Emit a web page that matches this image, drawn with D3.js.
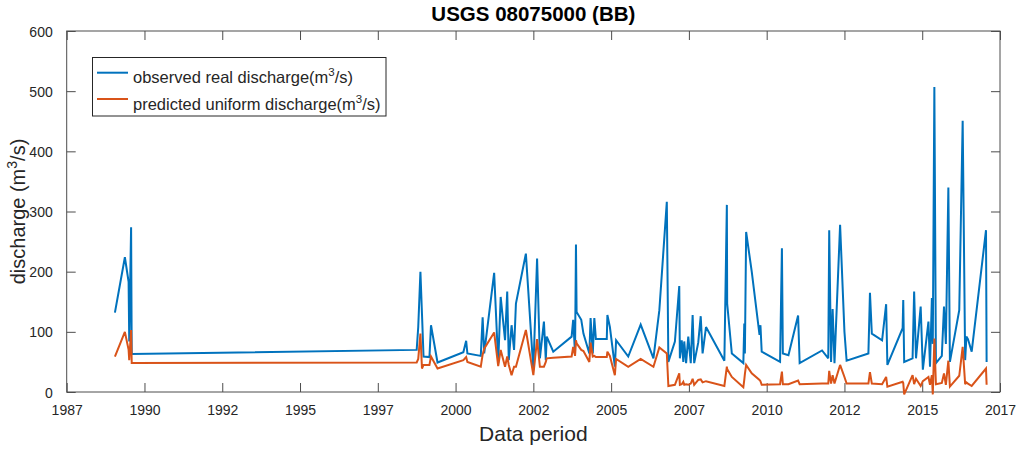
<!DOCTYPE html>
<html>
<head>
<meta charset="utf-8">
<script src="https://cdn.jsdelivr.net/npm/d3@7/dist/d3.min.js"></script>
<style>
  html, body { margin: 0; padding: 0; background: #fff; }
  svg { display: block; font-family: "Liberation Sans", Arial, Helvetica, sans-serif; }
</style>
</head>
<body>
<svg id="chart" width="1018" height="452"></svg>
<script>
// Sample dates (decimal years) for the gauge record
const sampleYears = [
  1988.55, 1988.87, 1988.99, 1989.01, 1989.07, 1989.09,
  1998.25, 1998.30, 1998.37, 1998.42, 1998.47, 1998.66, 1998.71, 1998.92,
  1999.75, 1999.84, 1999.88,
  2000.31, 2000.37, 2000.42, 2000.74, 2000.87, 2000.95,
  2001.09, 2001.16, 2001.21, 2001.30, 2001.38, 2001.44, 2001.76,
  2002.00, 2002.12, 2002.21, 2002.34, 2002.40, 2002.43, 2002.64,
  2003.23, 2003.28, 2003.34, 2003.37, 2003.39, 2003.54, 2003.61, 2003.80, 2003.84, 2003.91, 2003.96,
  2004.01, 2004.36, 2004.38, 2004.46, 2004.62, 2004.66,
  2005.05, 2005.45, 2005.86,
  2006.05, 2006.29, 2006.34, 2006.55, 2006.69, 2006.71, 2006.77, 2006.82, 2006.85, 2006.91, 2006.98,
  2007.06, 2007.12, 2007.17, 2007.30, 2007.38, 2007.44, 2007.55,
  2008.14, 2008.22, 2008.23, 2008.38, 2008.75, 2008.78, 2008.80, 2008.84,
  2009.02, 2009.27, 2009.30, 2009.34, 2009.93, 2009.99,
  2010.02, 2010.20, 2010.51, 2010.56,
  2011.28, 2011.48, 2011.51, 2011.57, 2011.62, 2011.68, 2011.86,
  2012.00, 2012.07, 2012.77, 2012.82, 2012.88,
  2013.21, 2013.34, 2013.38, 2013.87, 2013.89, 2013.92,
  2014.19, 2014.24, 2014.30, 2014.45, 2014.52, 2014.70, 2014.75, 2014.81, 2014.84, 2014.89, 2014.94,
  2015.13, 2015.20, 2015.26, 2015.34, 2015.39, 2015.69, 2015.80, 2015.88, 2015.92, 2015.97,
  2016.09, 2016.55, 2016.57
];

// Observed real discharge (m^3/s)
const observedDischarge = [
  132, 224, 183, 84, 274, 63,
  70, 108, 200, 130, 59, 58, 111, 49,
  66, 85, 64,
  60, 124, 64, 198, 48, 158,
  86, 167, 53, 111, 70, 147, 230,
  37, 222, 56, 117, 53, 92, 67,
  92, 120, 64, 245, 133, 120, 97, 64, 123, 64, 123,
  88, 88, 128, 108, 42, 86,
  59, 112, 56,
  136, 316, 50, 84, 176, 56, 86, 50, 84, 48, 92,
  48, 128, 48, 82, 126, 64, 108,
  52, 311, 147, 64, 48, 114, 64, 266,
  200, 95, 111, 67, 50, 239,
  64, 61, 127, 48,
  69, 56, 269, 50, 138, 48, 278,
  100, 52, 64, 165, 97,
  86, 146, 45, 106, 153, 50,
  56, 167, 56, 142, 37, 117, 42, 156, 80, 507, 48,
  60, 142, 80, 340, 50, 136, 451, 53, 92, 88,
  67, 269, 50
];

// Predicted uniform-flow discharge (m^3/s)
const predictedDischarge = [
  59, 100, 70, 53, 103, 48,
  49, 55, 97, 39, 45, 45, 59, 39,
  53, 58, 50,
  42, 62, 72, 99, 43, 70,
  42, 59, 45, 28, 42, 42, 103,
  28, 88, 42, 42, 50, 56, 57,
  59, 75, 60, 86, 81, 70, 68, 50, 82, 59, 60,
  58, 58, 67, 60, 28, 55,
  42, 55, 42,
  74, 64, 10, 12, 31, 12, 13, 17, 12, 13, 12,
  14, 22, 12, 20, 21, 16, 18,
  10, 42, 38, 25, 8, 20, 30, 45,
  31, 20, 18, 12, 13, 34,
  13, 13, 19, 13,
  14, 14, 35, 14, 28, 14, 45,
  25, 14, 14, 33, 14,
  13, 25, 9, 17, 15, -4,
  28, 13, 22, 10, 18, 25, 12, 28, -4, 89, 13,
  15, 31, 12, 52, 9, 27, 75, 13, 16, 14,
  10, 39, 12
];

// Axis ticks
const xTickValues = [1987, 1989.5, 1992, 1994.5, 1997, 1999.5, 2002, 2004.5, 2007, 2009.5, 2012, 2014.5, 2017];
const xTickLabels = ["1987", "1990", "1992", "1995", "1997", "2000", "2002", "2005", "2007", "2010", "2012", "2015", "2017"];
const yTickValues = [0, 100, 200, 300, 400, 500, 600];

const seriesNames = ["observed real discharge", "predicted uniform discharge"];
const seriesColors = ["#0072BD", "#D95319"];

const svg = d3.select("#chart");
const plot = { left: 66.7, right: 1000, top: 31, bottom: 392 };
const tickLen = 9;
const axisColor = "#262626";

const x = d3.scaleLinear().domain([1987, 2017]).range([plot.left, plot.right]);
const y = d3.scaleLinear().domain([0, 600]).range([plot.bottom, plot.top]);

// Box frame
svg.append("rect")
  .attr("x", plot.left).attr("y", plot.top)
  .attr("width", plot.right - plot.left).attr("height", plot.bottom - plot.top)
  .attr("fill", "none").attr("stroke", "#4d4d4d").attr("stroke-width", 1);

// Bottom axis with inward ticks
const xAxis = d3.axisBottom(x)
  .tickValues(xTickValues)
  .tickFormat((d, i) => xTickLabels[i])
  .tickSizeInner(-tickLen).tickSizeOuter(0).tickPadding(13);
const gx = svg.append("g").attr("transform", `translate(0,${plot.bottom})`).call(xAxis);

// Top mirror ticks
const gxTop = svg.append("g").attr("transform", `translate(0,${plot.top})`)
  .call(d3.axisTop(x).tickValues(xTickValues).tickFormat("").tickSizeInner(-tickLen).tickSizeOuter(0));

// Left axis
const yAxis = d3.axisLeft(y).tickValues(yTickValues).tickSizeInner(-tickLen).tickSizeOuter(0).tickPadding(14);
const gy = svg.append("g").attr("transform", `translate(${plot.left},0)`).call(yAxis);

// Right mirror ticks
const gyRight = svg.append("g").attr("transform", `translate(${plot.right},0)`)
  .call(d3.axisRight(y).tickValues(yTickValues).tickFormat("").tickSizeInner(-tickLen).tickSizeOuter(0));

[gx, gxTop, gy, gyRight].forEach(g => {
  g.select(".domain").remove();
  g.selectAll(".tick line").attr("stroke", "#4d4d4d").attr("stroke-width", 1);
  g.selectAll(".tick text").attr("fill", axisColor).style("font-size", "14px")
    .style("font-family", "'Liberation Sans', Arial, sans-serif");
});
gy.selectAll(".tick text").attr("dy", "0.36em");

// Series lines
const rows = sampleYears.map((t, i) => ({ t, obs: observedDischarge[i], pred: predictedDischarge[i] }));
const lineObs = d3.line().x(d => x(d.t)).y(d => y(d.obs));
const linePred = d3.line().x(d => x(d.t)).y(d => y(d.pred));

svg.append("path").datum(rows)
  .attr("d", lineObs).attr("fill", "none")
  .attr("stroke", seriesColors[0]).attr("stroke-width", 2).attr("stroke-linejoin", "miter").attr("stroke-miterlimit", 3);
svg.append("path").datum(rows)
  .attr("d", linePred).attr("fill", "none")
  .attr("stroke", seriesColors[1]).attr("stroke-width", 2).attr("stroke-linejoin", "miter").attr("stroke-miterlimit", 3);

// Title
svg.append("text")
  .attr("x", (plot.left + plot.right) / 2).attr("y", 21)
  .attr("text-anchor", "middle")
  .style("font-size", "20.5px").style("font-weight", "bold").attr("fill", "#000")
  .text("USGS 08075000 (BB)");

// Axis labels
svg.append("text")
  .attr("x", (plot.left + plot.right) / 2).attr("y", 441)
  .attr("text-anchor", "middle")
  .style("font-size", "21px").attr("fill", axisColor)
  .text("Data period");

const yl = svg.append("text")
  .attr("transform", `translate(25,${(plot.top + plot.bottom) / 2}) rotate(-90)`)
  .attr("text-anchor", "middle")
  .style("font-size", "20px").attr("fill", axisColor);
yl.append("tspan").text("discharge (m");
yl.append("tspan").attr("dy", -8).style("font-size", "14px").text("3");
yl.append("tspan").attr("dy", 8).text("/s)");

// Legend
const legend = svg.append("g");
legend.append("rect")
  .attr("x", 92.5).attr("y", 57.5).attr("width", 293.5).attr("height", 58.5)
  .attr("fill", "#fff").attr("stroke", axisColor).attr("stroke-width", 1);
const legendRows = [72.7, 99];
seriesNames.forEach((name, i) => {
  const ly = legendRows[i];
  legend.append("line")
    .attr("x1", 97).attr("x2", 128).attr("y1", ly).attr("y2", ly)
    .attr("stroke", seriesColors[i]).attr("stroke-width", 2);
  const t = legend.append("text")
    .attr("x", 133).attr("y", ly + 10.7)
    .style("font-size", "16.5px").attr("fill", axisColor);
  t.append("tspan").text(name + "(m");
  t.append("tspan").attr("dy", -7).style("font-size", "11.5px").text("3");
  t.append("tspan").attr("dy", 7).text("/s)");
});
</script>
</body>
</html>
